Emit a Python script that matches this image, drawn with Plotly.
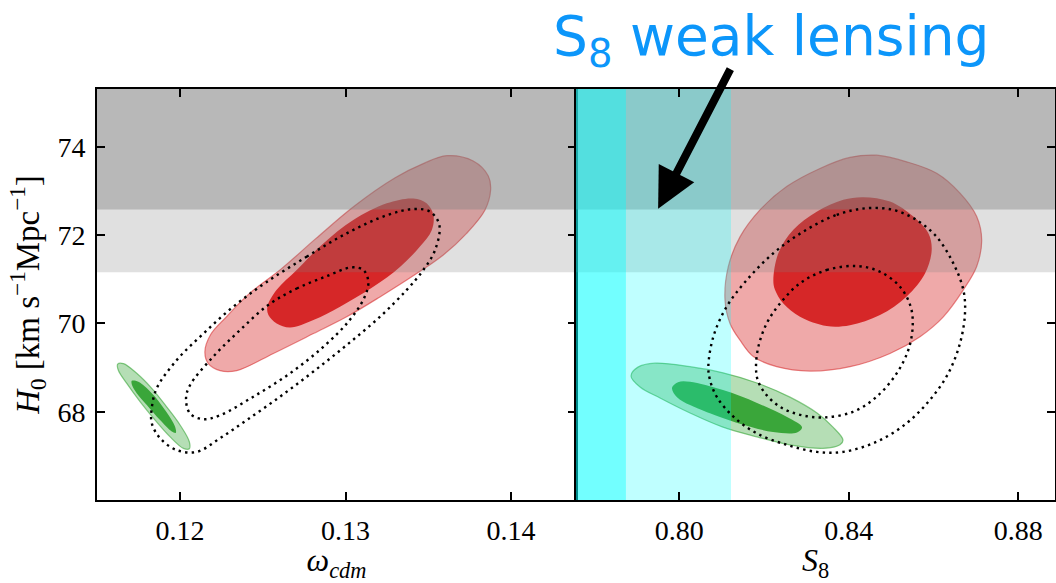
import plotly.graph_objects as go

# ---------------------------------------------------------------- axes
WCDM_RANGE = [0.11498, 0.14393]
S8_RANGE = [0.77562, 0.88866]
H0_RANGE = [66.0, 75.31]

WCDM_TICKS = [0.12, 0.13, 0.14]
WCDM_LABELS = ["0.12", "0.13", "0.14"]
S8_TICKS = [0.80, 0.84, 0.88]
S8_LABELS = ["0.80", "0.84", "0.88"]
H0_TICKS = [68, 70, 72, 74]
H0_LABELS = ["68", "70", "72", "74"]

# ---------------------------------------------------------------- priors
# local H0 measurement: 1 sigma and 2 sigma intervals
H0_1SIG = [72.58, 75.42]
H0_2SIG = [71.16, 76.84]
# weak-lensing S8: 1 sigma and 2 sigma intervals
S8_1SIG = [0.7378, 0.7874]
S8_2SIG = [0.7130, 0.8122]

# ---------------------------------------------------------------- omega_cdm - H0 plane
# baseline fit (green)
WCDM_GREEN_OUT = [0.11919, 0.12000, 0.12056, 0.12056, 0.12020, 0.11940, 0.11849,
                  0.11758, 0.11678, 0.11627, 0.11623, 0.11658, 0.11738, 0.11829]
H0W_GREEN_OUT = [68.11, 67.70, 67.32, 67.16, 67.17, 67.43, 67.81,
                 68.23, 68.64, 68.94, 69.08, 69.09, 68.87, 68.53]
WCDM_GREEN_IN = [0.11829, 0.11909, 0.11970, 0.11974, 0.11950, 0.11879,
                 0.11799, 0.11738, 0.11710, 0.11708, 0.11748]
H0W_GREEN_IN = [68.42, 68.04, 67.66, 67.52, 67.55, 67.81,
                68.15, 68.42, 68.60, 68.70, 68.68]

# extended model with H0 prior (red)
WCDM_RED_OUT = [0.12820, 0.13050, 0.13300, 0.13470, 0.13611, 0.13772, 0.13863, 0.13877,
                0.13843, 0.13732, 0.13591, 0.13430, 0.13208, 0.13007, 0.12806, 0.12564,
                0.12342, 0.12242, 0.12171, 0.12150, 0.12185, 0.12280, 0.12420, 0.12610]
H0W_RED_OUT = [71.92, 72.65, 73.30, 73.62, 73.80, 73.68, 73.34, 73.02,
               72.57, 72.04, 71.55, 71.13, 70.60, 70.15, 69.77, 69.32,
               68.93, 68.93, 69.09, 69.36, 69.75, 70.15, 70.68, 71.23]
WCDM_RED_IN = [0.12866, 0.13047, 0.13249, 0.13410, 0.13490, 0.13531, 0.13521, 0.13450, 0.13329,
               0.13168, 0.12967, 0.12806, 0.12665, 0.12584, 0.12534, 0.12528, 0.12584, 0.12705]
H0W_RED_IN = [71.81, 72.34, 72.72, 72.83, 72.72, 72.45, 72.11, 71.74, 71.28,
              70.83, 70.38, 70.08, 69.91, 70.00, 70.19, 70.38, 70.76, 71.21]

# extended model without H0 prior (dotted)
WCDM_DOT_OUT = [0.12524, 0.12765, 0.13007, 0.13249, 0.13410, 0.13511, 0.13567, 0.13541, 0.13470,
                0.13370, 0.13208, 0.13007, 0.12806, 0.12604, 0.12403, 0.12242, 0.12101, 0.11980,
                0.11879, 0.11829, 0.11829, 0.11859, 0.11980, 0.12141, 0.12322]
H0W_DOT_OUT = [70.94, 71.51, 72.04, 72.45, 72.59, 72.53, 72.23, 71.66, 71.21,
               70.76, 70.15, 69.51, 68.91, 68.34, 67.81, 67.40, 67.09, 67.13,
               67.40, 67.74, 68.08, 68.53, 69.17, 69.77, 70.38]
WCDM_DOT_IN = [0.12534, 0.12705, 0.12886, 0.13037, 0.13108, 0.13138, 0.13112, 0.13017, 0.12866,
               0.12665, 0.12443, 0.12242, 0.12141, 0.12060, 0.12036, 0.12060, 0.12201, 0.12363]
H0W_DOT_IN = [70.42, 70.79, 71.07, 71.27, 71.21, 70.94, 70.57, 70.04, 69.47,
              68.87, 68.34, 67.92, 67.83, 67.96, 68.30, 68.60, 69.25, 69.85]

# ---------------------------------------------------------------- S8 - H0 plane
S8_GREEN_OUT = [0.81031, 0.81834, 0.82612, 0.83250, 0.83627, 0.83863, 0.83792, 0.83391, 0.82612,
                0.81834, 0.81031, 0.80253, 0.79545, 0.79073, 0.78860, 0.79025, 0.79427, 0.80253]
H0S_GREEN_OUT = [68.88, 68.65, 68.33, 67.97, 67.65, 67.36, 67.25, 67.17, 67.25,
                 67.43, 67.65, 67.97, 68.31, 68.56, 68.81, 69.01, 69.10, 69.02]
S8_GREEN_IN = [0.81031, 0.81834, 0.82542, 0.82896, 0.82778, 0.82211, 0.81432,
               0.80654, 0.80253, 0.79946, 0.79828, 0.79969, 0.80253]
H0S_GREEN_IN = [68.49, 68.20, 67.88, 67.65, 67.53, 67.54, 67.73,
                67.99, 68.15, 68.33, 68.54, 68.67, 68.68]

S8_RED_OUT = [0.81904, 0.82534, 0.83320, 0.84028, 0.84658, 0.85366, 0.86074, 0.86624,
              0.87018, 0.87136, 0.87018, 0.86703, 0.86231, 0.85680, 0.84972, 0.84028,
              0.83084, 0.82298, 0.81747, 0.81432, 0.81196, 0.81078, 0.81157, 0.81432]
H0S_RED_OUT = [72.57, 73.10, 73.51, 73.76, 73.81, 73.66, 73.40, 72.95,
               72.42, 71.89, 71.29, 70.76, 70.15, 69.70, 69.32, 69.02,
               68.92, 69.02, 69.25, 69.62, 70.00, 70.53, 71.29, 71.96]
S8_RED_IN = [0.83242, 0.83871, 0.84343, 0.84972, 0.85523, 0.85877, 0.85956, 0.85798, 0.85366,
             0.84736, 0.84028, 0.83478, 0.82848, 0.82455, 0.82258, 0.82219, 0.82337, 0.82691]
H0S_RED_IN = [72.53, 72.80, 72.86, 72.76, 72.42, 72.04, 71.66, 71.13, 70.61,
              70.19, 69.96, 69.94, 70.15, 70.45, 70.76, 70.98, 71.59, 72.12]

S8_DOT_OUT = [0.82927, 0.83714, 0.84422, 0.85051, 0.85602, 0.86074, 0.86467, 0.86703, 0.86742,
              0.86624, 0.86349, 0.85916, 0.85366, 0.84658, 0.83871, 0.83242, 0.82534, 0.81826,
              0.81275, 0.80882, 0.80724, 0.80685, 0.80803, 0.81118, 0.81590, 0.82219]
H0S_DOT_OUT = [72.08, 72.46, 72.61, 72.57, 72.34, 71.96, 71.36, 70.76, 70.23,
               69.55, 68.87, 68.27, 67.74, 67.32, 67.09, 67.09, 67.25, 67.51,
               67.89, 68.34, 68.72, 69.02, 69.70, 70.38, 70.98, 71.59]
S8_DOT_IN = [0.82848, 0.83478, 0.84186, 0.84736, 0.85208, 0.85460, 0.85507, 0.85405, 0.85130, 0.84658,
             0.84107, 0.83399, 0.82848, 0.82376, 0.82022, 0.81849, 0.81810, 0.81865, 0.82062, 0.82376]
H0S_DOT_IN = [70.91, 71.21, 71.30, 71.17, 70.83, 70.38, 69.93, 69.40, 68.87, 68.34,
              68.00, 67.87, 67.93, 68.11, 68.42, 68.72, 69.02, 69.47, 70.00, 70.45]

# arrow pointing at the lensing band
ARROW_TIP = (0.7950, 72.60)

# ---------------------------------------------------------------- styles
RED_OUT_FILL = "rgba(214,39,40,0.40)"
RED_OUT_LINE = "rgba(214,39,40,0.55)"
RED_IN_FILL = "rgb(214,39,40)"
GREEN_OUT_FILL = "rgba(44,160,44,0.35)"
GREEN_OUT_LINE = "rgba(44,160,44,0.55)"
GREEN_IN_FILL = "rgba(44,160,44,0.90)"
GRAY_2SIG = "rgba(128,128,128,0.244)"
GRAY_1SIG = "rgba(128,128,128,0.4167)"
CYAN_2SIG = "rgba(0,255,255,0.25)"
CYAN_1SIG = "rgba(0,255,255,0.40)"

SERIF = "Liberation Serif, Times New Roman, serif"

fig = go.Figure()


def closed(xs, ys):
    return list(xs) + [xs[0]], list(ys) + [ys[0]]


def filled(xs, ys, xa, ya, fill, line=None, lw=0.0):
    cx, cy = closed(xs, ys)
    fig.add_trace(go.Scatter(
        x=cx, y=cy, xaxis=xa, yaxis=ya, mode="lines", fill="toself",
        fillcolor=fill, line=dict(color=line or fill, width=lw, shape="spline", smoothing=1.0),
        hoverinfo="skip", showlegend=False))


def dotted(xs, ys, xa, ya):
    cx, cy = closed(xs, ys)
    fig.add_trace(go.Scatter(
        x=cx, y=cy, xaxis=xa, yaxis=ya, mode="lines",
        line=dict(color="black", width=2.4, dash="2.4px,4.2px", shape="spline", smoothing=1.0),
        hoverinfo="skip", showlegend=False))


def hband(lims, xr, xa, ya, color):
    fig.add_trace(go.Scatter(
        x=[xr[0], xr[1], xr[1], xr[0], xr[0]], y=[lims[0], lims[0], lims[1], lims[1], lims[0]],
        xaxis=xa, yaxis=ya, mode="lines", fill="toself", fillcolor=color,
        line=dict(width=0, color=color), hoverinfo="skip", showlegend=False))


def vband(lims, xa, ya, color):
    fig.add_trace(go.Scatter(
        x=[lims[0], lims[1], lims[1], lims[0], lims[0]],
        y=[H0_RANGE[0], H0_RANGE[0], H0_RANGE[1], H0_RANGE[1], H0_RANGE[0]],
        xaxis=xa, yaxis=ya, mode="lines", fill="toself", fillcolor=color,
        line=dict(width=0, color=color), hoverinfo="skip", showlegend=False))


# ---- left panel: omega_cdm vs H0
filled(WCDM_RED_OUT, H0W_RED_OUT, "x", "y", RED_OUT_FILL, RED_OUT_LINE, 1.2)
filled(WCDM_RED_IN, H0W_RED_IN, "x", "y", RED_IN_FILL)
filled(WCDM_GREEN_OUT, H0W_GREEN_OUT, "x", "y", GREEN_OUT_FILL, GREEN_OUT_LINE, 1.2)
filled(WCDM_GREEN_IN, H0W_GREEN_IN, "x", "y", GREEN_IN_FILL)
hband(H0_2SIG, WCDM_RANGE, "x", "y", GRAY_2SIG)
hband(H0_1SIG, WCDM_RANGE, "x", "y", GRAY_1SIG)
dotted(WCDM_DOT_OUT, H0W_DOT_OUT, "x", "y")
dotted(WCDM_DOT_IN, H0W_DOT_IN, "x", "y")

# ---- right panel: S8 vs H0
filled(S8_RED_OUT, H0S_RED_OUT, "x2", "y2", RED_OUT_FILL, RED_OUT_LINE, 1.2)
filled(S8_RED_IN, H0S_RED_IN, "x2", "y2", RED_IN_FILL)
filled(S8_GREEN_OUT, H0S_GREEN_OUT, "x2", "y2", GREEN_OUT_FILL, GREEN_OUT_LINE, 1.2)
filled(S8_GREEN_IN, H0S_GREEN_IN, "x2", "y2", GREEN_IN_FILL)
hband(H0_2SIG, S8_RANGE, "x2", "y2", GRAY_2SIG)
hband(H0_1SIG, S8_RANGE, "x2", "y2", GRAY_1SIG)
vband(S8_2SIG, "x2", "y2", CYAN_2SIG)
vband(S8_1SIG, "x2", "y2", CYAN_1SIG)
dotted(S8_DOT_OUT, H0S_DOT_OUT, "x2", "y2")
dotted(S8_DOT_IN, H0S_DOT_IN, "x2", "y2")

tickfont = dict(family=SERIF, size=28, color="black")
common = dict(showgrid=False, zeroline=False, showline=True, linecolor="black", linewidth=2,
              ticks="inside", ticklen=8, tickwidth=1.6, tickcolor="black", tickfont=tickfont)

fig.update_layout(
    width=1056, height=583,
    margin=dict(l=97, r=1, t=89, b=83),
    paper_bgcolor="white", plot_bgcolor="white",
    xaxis=dict(domain=[0, 0.5], range=WCDM_RANGE, anchor="y", mirror="ticks",
               tickvals=WCDM_TICKS, ticktext=WCDM_LABELS, ticklabelstandoff=4,
               title=dict(text="<i>ω</i><sub><i>cdm</i></sub>", standoff=12,
                          font=dict(family=SERIF, size=32, color="black")), **common),
    xaxis2=dict(domain=[0.5, 1], range=S8_RANGE, anchor="y2", mirror="ticks",
                tickvals=S8_TICKS, ticktext=S8_LABELS, ticklabelstandoff=4,
                title=dict(text="<i>S</i><sub>8</sub>", standoff=12,
                           font=dict(family=SERIF, size=32, color="black")), **common),
    yaxis=dict(domain=[0, 1], range=H0_RANGE, anchor="x", mirror="ticks",
               tickvals=H0_TICKS, ticktext=H0_LABELS, ticklabelstandoff=4,
               title=dict(text="<i>H</i><sub>0</sub> [km s<sup>−1</sup>Mpc<sup>−1</sup>]", standoff=8,
                          font=dict(family=SERIF, size=33, color="black")), **common),
    yaxis2=dict(domain=[0, 1], range=H0_RANGE, anchor="x2", matches="y", side="right",
                mirror=True, tickvals=H0_TICKS, showticklabels=False, **common),
)

# handwritten-style heading and arrow
fig.add_annotation(
    xref="paper", yref="paper", x=0.7035, y=1.12, xanchor="center", yanchor="middle",
    text="S<sub>8</sub> weak lensing", showarrow=False,
    font=dict(family="DejaVu Sans", size=55, color="rgb(12,150,250)"))
fig.add_annotation(
    xref="x2", yref="y2", x=ARROW_TIP[0], y=ARROW_TIP[1], text="",
    showarrow=True, arrowhead=2, arrowsize=1.0, arrowwidth=8, arrowcolor="black",
    ax=73, ay=-141)

fig.write_html("out.html")
